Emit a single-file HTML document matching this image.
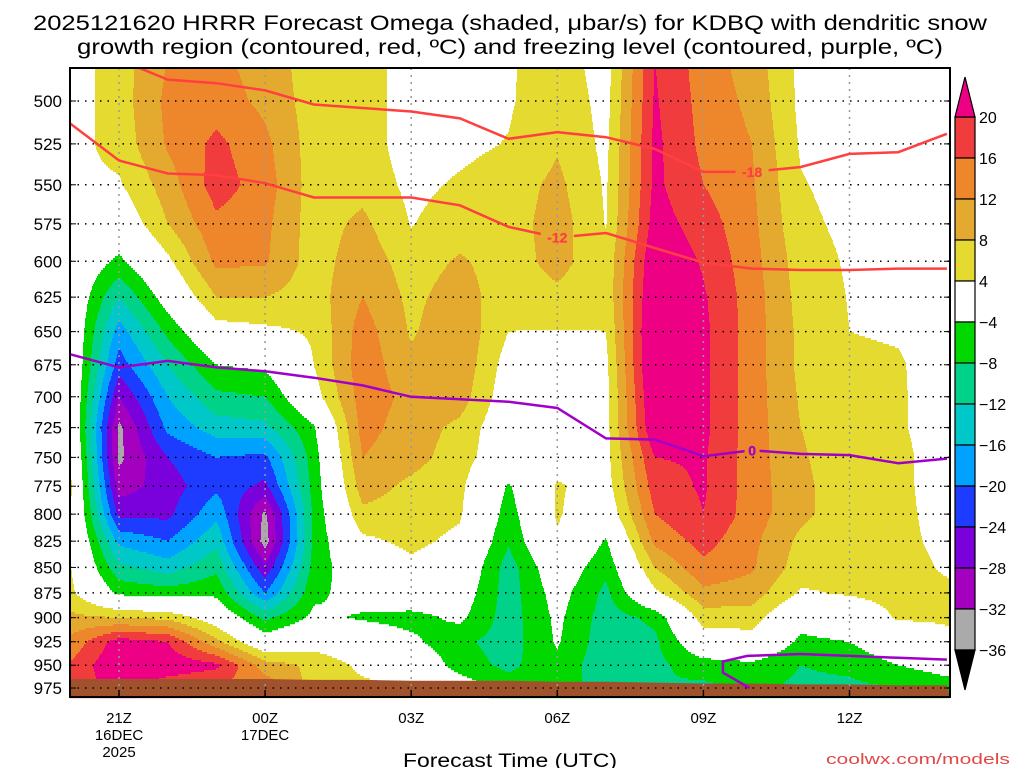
<!DOCTYPE html>
<html><head><meta charset="utf-8"><title>HRRR Omega KDBQ</title>
<style>
html,body{margin:0;padding:0;background:#fff;width:1024px;height:768px;overflow:hidden}
svg{display:block;font-family:"Liberation Sans",sans-serif}
</style></head>
<body>
<svg id="chart" width="1024" height="768" viewBox="0 0 1024 768" xmlns="http://www.w3.org/2000/svg">
<rect x="0" y="0" width="1024" height="768" fill="#fff"/>
<text x="510" y="30" text-anchor="middle" font-size="21" textLength="954" lengthAdjust="spacingAndGlyphs">2025121620 HRRR Forecast Omega (shaded, μbar/s) for KDBQ with dendritic snow</text>
<text x="510" y="54" text-anchor="middle" font-size="21" textLength="866" lengthAdjust="spacingAndGlyphs">growth region (contoured, red, ºC) and freezing level (contoured, purple, ºC)</text>
<g id="fill"></g>
<g id="ground"></g>
<g id="grid"></g>
<g id="lines"></g>
<g id="axes"></g>
<g id="cbar"></g>
<text x="510" y="767" text-anchor="middle" font-size="19" textLength="214" lengthAdjust="spacingAndGlyphs">Forecast Time (UTC)</text>
<text x="1010" y="764" text-anchor="end" font-size="15" fill="#e04848" textLength="184" lengthAdjust="spacingAndGlyphs">coolwx.com/models</text>
</svg>
<script>
// ---- data ----
const hourLabels = ['20Z','21Z','22Z','23Z','00Z','01Z','02Z','03Z','04Z','05Z','06Z','07Z','08Z','09Z','10Z','11Z','12Z','13Z','14Z'];
const levels = [475,500,525,550,575,600,625,650,675,700,725,750,775,800,825,850,875,900,925,950,975];
const omega475 = [2,6,12,13,10,6,6,2,2,3.5,6,2,20,14,10,3,1,1,1];
const omega500 = [2,6,13,14,11,6,6,2,2,3.5,7,2.5,20.5,14.5,11,3,1.5,1,1];
const omega525 = [2.5,5.5,12.5,17,13,6,6,2,3,4.2,7.5,3,21,15,12,3.5,2,1.5,1];
const omega550 = [3,3.5,10,18,14,6,6.5,3,4.5,6,9,3.5,21,16,12.5,4.3,2.5,2,1];
const omega575 = [2,0,8,15,13,6,9,3.8,6,6,10,3.8,22,18,13,5,3,2.5,1];
const omega600 = [1,-5,3,13,12.5,6,10.5,6,8.5,6,9.5,5,24,19.5,13.5,6,3.5,3,1];
const omega625 = [1,-12,-1.5,8,8,6,12,7,10,5.5,7,5,25,20.5,14,6.5,3.8,3,1];
const omega650 = [1.5,-18,-7,2,3,4.5,14,7.5,11,4,3.8,4,26,21,14,7,4,3.5,1];
const omega675 = [2,-22,-12,-4,-3,4,14.5,9,11,2,2,3,26,21,14,7,5,4.5,1.5];
const omega700 = [2.5,-28,-16,-9,-8,2,14,11,10,1,1,2.5,25,21,14,7.5,5.5,4.5,2];
const omega725 = [3,-33,-19,-14,-13,-4.5,13.5,10,7,0,1.5,2.5,24,21,14,8,5.5,4.5,2];
const omega750 = [4.5,-33,-24,-20,-21,-6,12,9.5,6,0,2,2.5,20,20.5,14,8.5,5.5,5,2];
const omega775 = [5,-30,-26,-21,-25,-6.5,10,7,5,-4.5,4.5,2,18,20.5,14,9,5.5,5,2];
const omega800 = [4.5,-25,-25,-17,-33,-7,7,6,4.5,-6,4.5,0,16,20,14,9,5.5,5,2.5];
const omega825 = [4.3,-17,-20,-13,-34,-7,3,5,3,-7.5,3.5,-4.5,13,17.5,13,7,5,5,3];
const omega850 = [4.3,-11,-14,-9,-27,-6.5,0,3,1,-10,0,-7,8,15,12.5,6,5,5.5,3.5];
const omega875 = [5,-5,-6,-5,-20,-5,-2,0,-1,-10,-2,-9,3,11,10,3.5,4.5,5.5,4.8];
const omega900 = [9,8,7,1,-9,-3,-4.5,-5.5,-3,-10,-3,-10,-7,6,6,-2,0,4.5,4.5];
const omega925 = [13,22,20,9,-1,2,0,-3,-7,-10,-3.5,-10.5,-9,1,2,-5,-4,0,3];
const omega950 = [16.5,24,23,21,10,7,3,1,-6,-9,-5,-11,-9,-6,-5,-8,-7,-4,-2];
const omega975 = [17,22,17,15,15,6,5,4,-1,-6,-6,-10,-8,-9,-7,-9,-9,-8,-6];
const isoMinus18 = [470,477,488,490,494,502,504,506,510,522,518,521,528,542,542,539,531,530,519];
const isoMinus12 = [513,535,543,544,549,558,558,558,563,577,584,581,591,601,605,606,606,605,605];
const freezing = [667,677,672,677,680,685,691,700,702,704,709,734,735,749,744,747,748,755,751];
const freezingLowHours = [13.95,13.4,13.4,13.9,15.0,16.0,17.0,18.0];
const freezingLowP = [975,958,946,940,938,940,942,944];
const surfaceP = [965,965,965,965,965,966,966,967,967,967,968,968,969,970,970,971,971,972,972];
const yTickLabels = [500,525,550,575,600,625,650,675,700,725,750,775,800,825,850,875,900,925,950,975];
const xTickHours = [1,4,7,10,13,16];
const xTickLine1 = ['21Z','00Z','03Z','06Z','09Z','12Z'];
const xTickLine2 = ['16DEC','17DEC','','','',''];
const xTickLine3 = ['2025','','','','',''];
const cbarLevels = [20,16,12,8,4,-4,-8,-12,-16,-20,-24,-28,-32,-36];

const grid = [omega475,omega500,omega525,omega550,omega575,omega600,omega625,omega650,omega675,omega700,omega725,omega750,omega775,omega800,omega825,omega850,omega875,omega900,omega925,omega950,omega975];
const cbarColors = ['#f03c3c','#ee862c','#e4aa30','#e4da30','#ffffff','#00d800','#00d28a','#00c8c8','#00a2ff','#1e3cff','#7a00dc','#a400c0','#aaaaaa'];
const NS='http://www.w3.org/2000/svg';
const PL=70, PR=950, PT=68, PB=697;
function xOf(h){return 70.3+48.7*h;}
function yOf(p){return 101+879*Math.log(p/500);}
function pOf(y){return 500*Math.exp((y-101)/879);}
function colorFor(v){
  if(v>=20) return '#ee0084';
  if(v>=16) return '#f03c3c';
  if(v>=12) return '#ee862c';
  if(v>=8) return '#e4aa30';
  if(v>=4) return '#e4da30';
  if(v>-4) return null;
  if(v>-8) return '#00d800';
  if(v>-12) return '#00d28a';
  if(v>-16) return '#00c8c8';
  if(v>-20) return '#00a2ff';
  if(v>-24) return '#1e3cff';
  if(v>-28) return '#7a00dc';
  if(v>-32) return '#a400c0';
  if(v>-36) return '#aaaaaa';
  return '#000';
}
function mk(tag,attrs,parent){const e=document.createElementNS(NS,tag);for(const k in attrs)e.setAttribute(k,attrs[k]);parent.appendChild(e);return e;}

// ---- shading ----
const fillG=document.getElementById('fill');
const lnLev=levels.map(p=>Math.log(p));
for(let y=PT;y<PB;y+=2){
  const lp=Math.log(pOf(y+1));
  let li=0; while(li<levels.length-2 && lp>lnLev[li+1]) li++;
  let ty=(lp-lnLev[li])/(lnLev[li+1]-lnLev[li]); ty=Math.max(0,Math.min(1,ty));
  let runStart=PL, runCol=undefined;
  for(let x=PL;x<=PR;x++){
    let col=null;
    if(x<PR){
      let h=(x+0.5-70.3)/48.7; h=Math.max(0,Math.min(18,h));
      let i=Math.min(17,Math.floor(h)); const tx=h-i;
      const a=grid[li][i],b=grid[li][i+1],c=grid[li+1][i],d=grid[li+1][i+1];
      const v=(a*(1-tx)+b*tx)*(1-ty)+(c*(1-tx)+d*tx)*ty;
      col=colorFor(v);
    }
    if(x===PL){runCol=col;runStart=x;continue;}
    if(col!==runCol||x===PR){
      if(runCol){
        const r=mk('rect',{x:runStart,y:y,width:x-runStart,height:2.2,fill:runCol},fillG);
        
        
      }
      runCol=col;runStart=x;
    }
  }
}

// ---- ground ----
const groundG=document.getElementById('ground');
let gpts=surfaceP.map((p,i)=>Math.max(PL,Math.min(PR,xOf(i)))+','+yOf(p).toFixed(1));
gpts.push(PR+','+PB); gpts.push(PL+','+PB);
const gp=mk('polygon',{points:gpts.join(' '),fill:'#a0522d'},groundG);



// ---- grid ----
const gridG=document.getElementById('grid');
yTickLabels.forEach(p=>{
  const l=mk('line',{x1:PL,x2:PR,y1:yOf(p),y2:yOf(p),stroke:'#000','stroke-width':1.5,'stroke-dasharray':'1.5 6'},gridG);
  
  
});
xTickHours.forEach(h=>{
  const l=mk('line',{x1:xOf(h),x2:xOf(h),y1:PT,y2:PB,stroke:'#999','stroke-width':1.5,'stroke-dasharray':'2 5'},gridG);
  
  
});

// ---- contour lines ----
const linesG=document.getElementById('lines');
const defs=mk('defs',{},linesG);
const clip=mk('clipPath',{id:'pc'},defs);
mk('rect',{x:PL,y:PT,width:PR-PL,height:PB-PT},clip);
const labelSpecs=[['-18',14.0,isoMinus18,'#ff4040','label-minus18'],['-12',10.0,isoMinus12,'#ff4040','label-minus12'],['0',14.0,freezing,'#a000c8','label-freezing']];
function posOn(h,arr){const i=Math.floor(h),t=h-i;const p=Math.exp(Math.log(arr[i])*(1-t)+Math.log(arr[Math.min(i+1,arr.length-1)])*t);return [xOf(h),yOf(p)];}
// mask with gaps around labels
const mask=mk('mask',{id:'lm',maskUnits:'userSpaceOnUse',x:0,y:0,width:1024,height:768},defs);
mk('rect',{x:0,y:0,width:1024,height:768,fill:'#fff'},mask);
labelSpecs.forEach(s=>{const [x,y]=posOn(s[1],s[2]);const w=s[0].length*9+6;mk('rect',{x:x-w/2,y:y-8,width:w,height:16,fill:'#000'},mask);});
function drawLine(arr,color,name){
  const pts=arr.map((p,i)=>xOf(i).toFixed(1)+','+yOf(p).toFixed(1)).join(' ');
  const l=mk('polyline',{points:pts,fill:'none',stroke:color,'stroke-width':2.5,'clip-path':'url(#pc)',mask:'url(#lm)'},linesG);
  
  
}
drawLine(isoMinus18,'#ff4040','isotherm-minus18');
drawLine(isoMinus12,'#ff4040','isotherm-minus12');
drawLine(freezing,'#a000c8','freezing-level');
{
  const pts=freezingLowHours.map((h,i)=>xOf(h).toFixed(1)+','+yOf(freezingLowP[i]).toFixed(1)).join(' ');
  const l=mk('polyline',{points:pts,fill:'none',stroke:'#a000c8','stroke-width':2.5,'clip-path':'url(#pc)'},linesG);
  
  
}
labelSpecs.forEach(s=>{
  const [x,y]=posOn(s[1],s[2]);
  const tx=mk('text',{x:x,y:y+5,'text-anchor':'middle','font-size':14,'font-weight':'bold',fill:s[3],stroke:s[3],'stroke-width':0.3},linesG);
  tx.textContent=s[0];
  
  
});

// ---- axes ----
const axG=document.getElementById('axes');
const fr=mk('rect',{x:PL,y:PT,width:PR-PL,height:PB-PT,fill:'none',stroke:'#000','stroke-width':2},axG);


yTickLabels.forEach(p=>{
  const y=yOf(p);
  const t=mk('text',{x:62,y:y+6,'text-anchor':'end','font-size':17},axG);
  t.textContent=p;
  
  
  mk('line',{x1:PL,x2:PL+6,y1:y,y2:y,stroke:'#000','stroke-width':1},axG);
  mk('line',{x1:PR-6,x2:PR,y1:y,y2:y,stroke:'#000','stroke-width':1},axG);
});
xTickHours.forEach((h,k)=>{
  const x=xOf(h);
  mk('line',{x1:x,x2:x,y1:PB,y2:PB-7,stroke:'#000','stroke-width':1.5},axG);
  [xTickLine1[k],xTickLine2[k],xTickLine3[k]].forEach((s,j)=>{
    if(!s) return;
    const t=mk('text',{x:x,y:723+j*17,'text-anchor':'middle','font-size':15},axG);
    t.textContent=s;
    
    
  });
});

// ---- colorbar ----
const cb=document.getElementById('cbar');
const cbx=955, cbw=20, cbTop=117, cbStep=41;
cbarColors.forEach((c,i)=>{
  const r=mk('rect',{x:cbx,y:cbTop+i*cbStep,width:cbw,height:cbStep,fill:c,stroke:'#000','stroke-width':1.2},cb);
  
  
});
const tu=mk('polygon',{points:`${cbx},${cbTop} ${cbx+cbw},${cbTop} ${cbx+cbw/2},${cbTop-40}`,fill:'#ee0084',stroke:'#000','stroke-width':1.2},cb);


const bot=cbTop+cbarColors.length*cbStep;
const td=mk('polygon',{points:`${cbx},${bot} ${cbx+cbw},${bot} ${cbx+cbw/2},${bot+40}`,fill:'#000',stroke:'#000','stroke-width':1.2},cb);


cbarLevels.forEach((v,i)=>{
  const t=mk('text',{x:979,y:cbTop+i*cbStep+6,'font-size':16},cb);
  t.textContent=v<0?'\u2212'+Math.abs(v):String(v);
  
  
});
</script>
</body></html>
